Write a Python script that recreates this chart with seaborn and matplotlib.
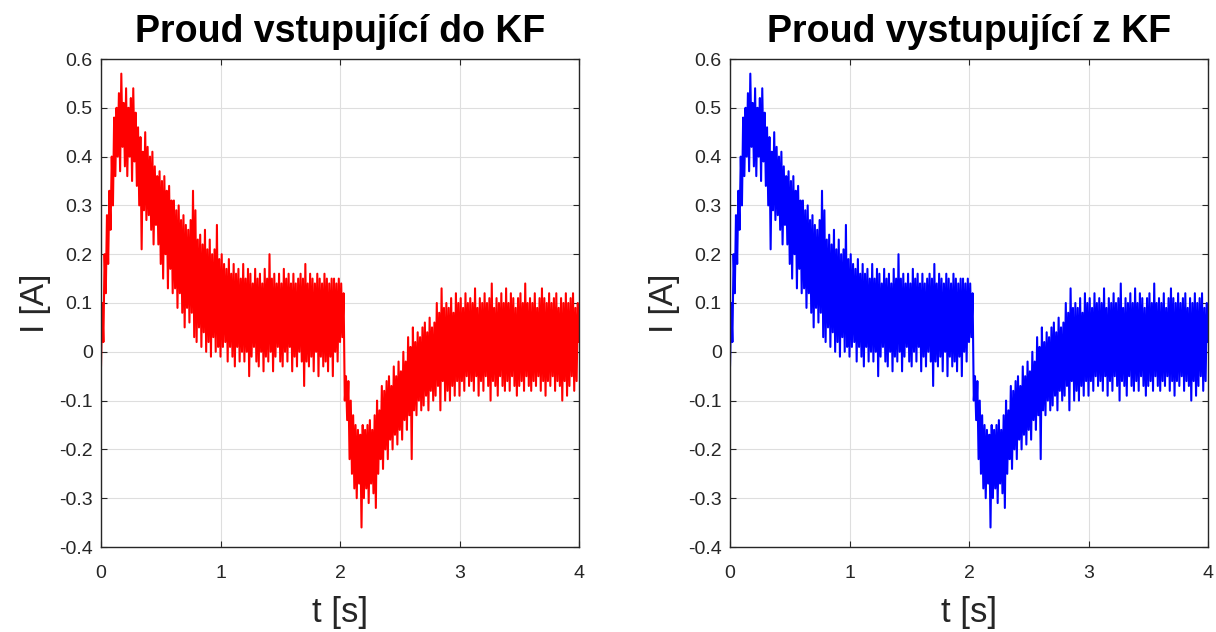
import numpy as np
import pandas as pd
import seaborn as sns
import matplotlib
matplotlib.use("Agg")
import matplotlib.pyplot as plt
from matplotlib.ticker import FuncFormatter, FixedLocator

dt = 0.01
current_in = [
    -0.03, 0.10, 0.02, 0.20, 0.12, 0.28, 0.18, 0.33, 0.25, 0.40,
    0.30, 0.48, 0.36, 0.50, 0.40, 0.53, 0.37, 0.57, 0.42, 0.51,
    0.38, 0.54, 0.36, 0.50, 0.40, 0.52, 0.35, 0.54, 0.39, 0.49,
    0.34, 0.46, 0.30, 0.44, 0.21, 0.41, 0.29, 0.45, 0.27, 0.42,
    0.28, 0.40, 0.25, 0.41, 0.22, 0.38, 0.26, 0.36, 0.22, 0.37,
    0.18, 0.35, 0.15, 0.36, 0.20, 0.33, 0.13, 0.34, 0.17, 0.31,
    0.12, 0.31, 0.13, 0.29, 0.09, 0.30, 0.12, 0.27, 0.08, 0.28,
    0.05, 0.26, 0.09, 0.25, 0.06, 0.27, 0.08, 0.33, 0.03, 0.29,
    0.02, 0.23, 0.05, 0.24, 0.01, 0.22, 0.04, 0.25, 0.00, 0.21,
    0.02, 0.23, -0.01, 0.20, 0.03, 0.21, 0.00, 0.26, 0.01, 0.19,
    -0.01, 0.20, 0.01, 0.18, 0.02, 0.17, -0.02, 0.19, 0.01, 0.16,
    -0.01, 0.18, -0.03, 0.16, 0.01, 0.17, -0.02, 0.15, 0.00, 0.18,
    -0.02, 0.15, 0.00, 0.17, -0.05, 0.16, -0.01, 0.14, 0.01, 0.17,
    -0.02, 0.15, -0.03, 0.16, 0.00, 0.14, -0.04, 0.17, -0.01, 0.15,
    -0.02, 0.20, 0.00, 0.15, -0.04, 0.16, -0.01, 0.14, 0.01, 0.16,
    -0.02, 0.14, -0.03, 0.17, 0.00, 0.15, -0.02, 0.16, 0.01, 0.14,
    -0.04, 0.16, -0.01, 0.14, -0.03, 0.15, 0.00, 0.16, -0.02, 0.15,
    -0.07, 0.18, -0.02, 0.14, -0.03, 0.16, -0.01, 0.15, -0.04, 0.14,
    0.00, 0.16, -0.05, 0.15, -0.01, 0.14, -0.03, 0.16, -0.02, 0.15,
    -0.04, 0.14, -0.01, 0.15, -0.05, 0.15, 0.00, 0.14, -0.02, 0.15,
    0.02, 0.14, 0.03, 0.12, -0.10, -0.05, -0.14, -0.06, -0.22, -0.10,
    -0.25, -0.13, -0.28, -0.15, -0.30, -0.16, -0.27, -0.17, -0.36, -0.15,
    -0.30, -0.16, -0.28, -0.15, -0.31, -0.14, -0.27, -0.16, -0.29, -0.13,
    -0.32, -0.10, -0.25, -0.12, -0.22, -0.07, -0.24, -0.08, -0.20, -0.06,
    -0.22, -0.05, -0.18, -0.07, -0.20, -0.03, -0.17, -0.05, -0.19, -0.02,
    -0.16, -0.04, -0.18, 0.00, -0.14, -0.02, -0.16, 0.03, -0.13, 0.01,
    -0.22, 0.05, -0.12, 0.02, -0.13, 0.04, -0.10, 0.03, -0.12, 0.05,
    -0.11, 0.06, -0.09, 0.04, -0.12, 0.07, -0.08, 0.05, -0.10, 0.06,
    -0.09, 0.10, -0.07, 0.08, -0.12, 0.13, -0.06, 0.09, -0.10, 0.10,
    -0.08, 0.09, -0.10, 0.11, -0.07, 0.08, -0.09, 0.12, -0.06, 0.10,
    -0.09, 0.11, -0.06, 0.09, -0.08, 0.12, -0.05, 0.10, -0.07, 0.11,
    -0.06, 0.10, -0.08, 0.13, -0.05, 0.09, -0.09, 0.11, -0.06, 0.10,
    -0.08, 0.12, -0.05, 0.10, -0.07, 0.11, -0.10, 0.14, -0.06, 0.09,
    -0.07, 0.11, -0.09, 0.10, -0.05, 0.12, -0.07, 0.10, -0.08, 0.13,
    -0.06, 0.10, -0.08, 0.12, -0.05, 0.11, -0.07, 0.09, -0.09, 0.11,
    -0.07, 0.12, -0.06, 0.10, -0.08, 0.14, -0.05, 0.10, -0.07, 0.11,
    -0.08, 0.10, -0.06, 0.12, -0.07, 0.09, -0.05, 0.11, -0.08, 0.13,
    -0.06, 0.11, -0.09, 0.10, -0.06, 0.12, -0.07, 0.10, -0.05, 0.11,
    -0.08, 0.12, -0.06, 0.09, -0.07, 0.11, -0.10, 0.10, -0.06, 0.12,
    -0.09, 0.10, -0.07, 0.11, -0.05, 0.12, -0.08, 0.09, -0.06, 0.10,
    0.02,
]
current_out = list(current_in)
time_s = np.arange(len(current_in)) * dt

titles = ["Proud vstupující do KF", "Proud vystupující z KF"]
colors = ["#ff0000", "#0000ff"]
x_ticks = [0, 1, 2, 3, 4]
y_ticks = [-0.4, -0.3, -0.2, -0.1, 0, 0.1, 0.2, 0.3, 0.4, 0.5, 0.6]
x_label = "t [s]"
y_label = "I [A]"

# ---- style ----
sns.set_theme(style="whitegrid")
plt.rcParams["font.family"] = ["Liberation Sans", "DejaVu Sans"]
plt.rcParams["axes.unicode_minus"] = False

fig = plt.figure(figsize=(12.16, 6.32), dpi=100)
positions = [
    [101 / 1216, 1 - 547 / 632, 478 / 1216, 488 / 632],
    [730 / 1216, 1 - 547 / 632, 478 / 1216, 488 / 632],
]

series = [current_in, current_out]
for pos, title, col, vals in zip(positions, titles, colors, series):
    ax = fig.add_axes(pos)
    df = pd.DataFrame({"t": time_s, "I": vals})
    sns.lineplot(data=df, x="t", y="I", color=col, linewidth=1.5,
                 estimator=None, ax=ax)
    ax.set_xlim(0, 4)
    ax.set_ylim(-0.4, 0.6)
    ax.xaxis.set_major_locator(FixedLocator(x_ticks))
    ax.yaxis.set_major_locator(FixedLocator(y_ticks))
    ax.yaxis.set_major_formatter(FuncFormatter(lambda v, p: f"{v:g}"))
    ax.xaxis.set_major_formatter(FuncFormatter(lambda v, p: f"{v:g}"))
    ax.grid(True, color="#dedede", linewidth=0.8)
    for s in ax.spines.values():
        s.set_color("#262626")
        s.set_linewidth(1.0)
        s.set_visible(True)
    ax.tick_params(direction="in", length=4, width=0.8, color="#262626",
                   top=True, right=True, bottom=True, left=True,
                   labelsize=14, labelcolor="#262626")
    ax.tick_params(axis="y", pad=6)
    ax.tick_params(axis="x", pad=13)
    ax.set_title(title, fontsize=27, fontweight="bold", color="black", pad=12)
    ax.set_xlabel(x_label, fontsize=25, color="#262626", labelpad=10)
    ax.set_ylabel(y_label, fontsize=24, color="#262626", labelpad=6)

fig.savefig("out.png", dpi=100, facecolor="white")
